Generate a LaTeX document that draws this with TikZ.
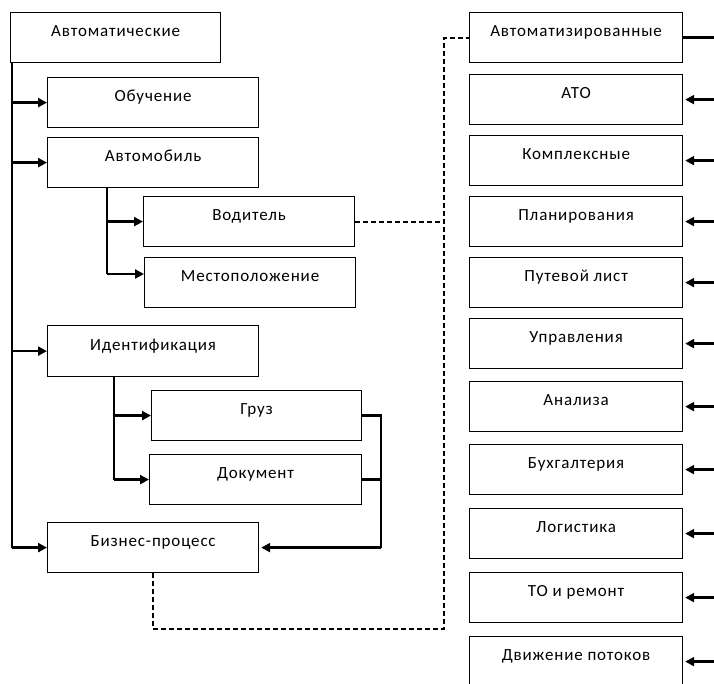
\documentclass[tikz,border=0pt]{standalone}
\usepackage{fontspec}
\setmainfont{Carlito}[LetterSpace=5]
\usetikzlibrary{arrows.meta,calc}
\tikzset{
  box/.style={draw, line width=1.2pt, anchor=north west, minimum height=50pt,
    text height=24pt, text depth=26pt, inner ysep=0pt, inner xsep=0pt,
    font=\fontsize{17}{20}\selectfont},
  lbox/.style={box, minimum width=211pt},
  rbox/.style={box, minimum width=213pt},
  conn/.style={line width=2.6pt},
  arr/.style={line width=2.6pt, -{Triangle[length=9pt,width=9pt]}},
  dash line/.style={line width=1.8pt, dash pattern=on 5pt off 3pt},
}
\begin{document}
\begin{tikzpicture}[x=1pt,y=-1pt]
\useasboundingbox (0,0) rectangle (714,683);
\clip (0,0) rectangle (714,683);
% left boxes
\node[box, minimum width=210pt] (A0) at (10,12) {Автоматические};
\node[lbox] (Ob) at (47,77) {Обучение};
\node[lbox] (Am) at (47,137) {Автомобиль};
\node[lbox] (Vd) at (143,196) {Водитель};
\node[lbox] (Mp) at (144,257) {Местоположение};
\node[lbox, minimum height=51pt] (Id) at (47,325) {Идентификация};
\node[box, minimum width=210pt, minimum height=49pt] (Gr) at (151,390) {Груз};
\node[box, minimum width=212pt, minimum height=49pt] (Dk) at (149,454) {Документ};
\node[lbox] (Bp) at (47,522) {Бизнес-процесс};
% right boxes
\node[rbox] (R0) at (469,12) {Автоматизированные};
\node[rbox] (R1) at (469,74) {АТО};
\node[rbox] (R2) at (469,135) {Комплексные};
\node[rbox] (R3) at (469,196) {Планирования};
\node[rbox] (R4) at (469,257) {Путевой лист};
\node[rbox] (R5) at (469,318) {Управления};
\node[rbox] (R6) at (469,381) {Анализа};
\node[rbox] (R7) at (469,444) {Бухгалтерия};
\node[rbox] (R8) at (469,508) {Логистика};
\node[rbox] (R9) at (469,572) {ТО и ремонт};
\node[rbox] (R10) at (469,636) {Движение потоков};
% main trunk
\coordinate (t) at (12,0);
\draw[conn] (A0.south -| t) -- (Bp.west -| t);
\draw[arr] (Ob.west -| t) -- (Ob.west);
\draw[arr] (Am.west -| t) -- (Am.west);
\draw[arr] (Id.west -| t) -- (Id.west);
\draw[arr] (Bp.west -| t) -- (Bp.west);
% Автомобиль sub-trunk
\coordinate (ta) at (107,0);
\coordinate (mpa) at (144,274);
\draw[conn] (Am.south -| ta) -- (mpa -| ta);
\draw[arr] (Vd.west -| ta) -- (Vd.west);
\draw[arr] (mpa -| ta) -- (mpa);
% Идентификация sub-trunk
\coordinate (ti) at (114,0);
\draw[conn] (Id.south -| ti) -- (Dk.west -| ti);
\draw[arr] (Gr.west -| ti) -- (Gr.west);
\draw[arr] (Dk.west -| ti) -- (Dk.west);
% Груз/Документ to Бизнес-процесс
\coordinate (tg) at (381,0);
\draw[conn] (Gr.east) -- (Gr.east -| tg) -- (Bp.east -| tg);
\draw[conn] (Dk.east) -- (Dk.east -| tg);
\draw[arr, shorten >=2pt] (Bp.east -| tg) -- (Bp.east);
% dashed links
\coordinate (td) at (444,0);
\coordinate (bot) at (0,629);
\draw[dash line] (Bp.south) -- (Bp.south |- bot) -- (bot -| td) -- (R0.west -| td) -- (R0.west);
\draw[dash line] (Vd.east) -- (Vd.east -| td);
% right side
\coordinate (re) at (716,0);
\draw[conn] (R0.east) -- (R0.east -| re);
\foreach \n in {R1,R2,R3,R4,R5,R6,R7,R8,R9,R10}{
  \draw[arr, shorten >=2pt] (\n.east -| re) -- (\n.east);
}
\end{tikzpicture}
\end{document}
